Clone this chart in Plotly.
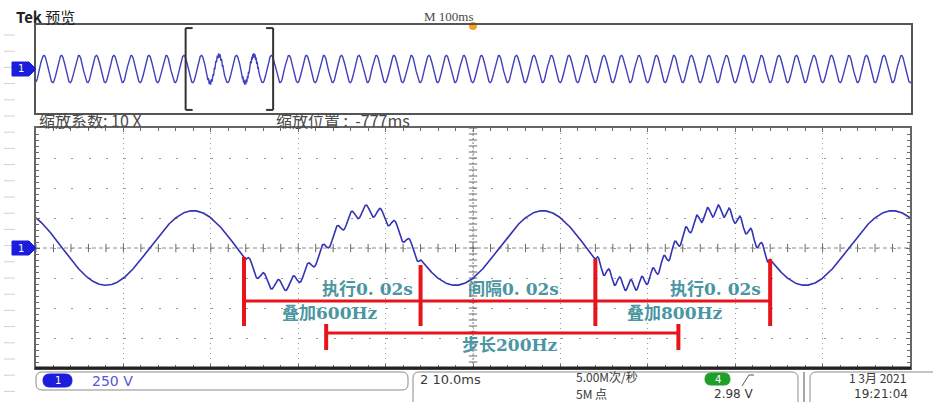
import numpy as np
import plotly.graph_objects as go

W, H = 933, 402

# ---------------- data ----------------
window_ms = [0, 100]            # main view: 10 div x 10 ms
volts_range = [-1000, 1000]     # 8 div x 250 V
overview_ms = [0, 1000]         # overview: 10 div x 100 ms
zoom_window_ms = [171, 271]     # bracket in overview
fundamental_hz = 50
amplitude_v = 311
zero_cross_ms = 13.0            # rising zero crossing of fundamental in main view
harm_start_ms = [24.0, 64.0]
harm_end_ms = [44.0, 84.0]
harm_hz = [600, 800]
harm_amp_v = [48, 48]

# red annotation brackets (ms, V)
marker_ms = [23.8, 44.0, 64.0, 84.0]
marker_top_v = [-75, -142, -92, -92]
marker_bottom_v = [-650, -650, -650, -650]
span_line_v = -442
step_ms = [33.2, 73.5]
step_line_v = -708
step_cap_v = [-633, -850]

label_text = ["执行0. 02s", "叠加600Hz", "间隔0. 02s", "执行0. 02s", "叠加800Hz", "步长200Hz"]
label_ms = [37.9, 33.6, 54.6, 77.8, 73.1, 54.2]
label_v = [-342, -542, -342, -342, -542, -808]


def signal(t_ms):
    v = amplitude_v * np.sin(2 * np.pi * fundamental_hz * (t_ms - zero_cross_ms) / 1000.0)
    for s, e, f, a in zip(harm_start_ms, harm_end_ms, harm_hz, harm_amp_v):
        m = (t_ms >= s) & (t_ms < e)
        v[m] += a * np.sin(2 * np.pi * f * (t_ms[m] - s) / 1000.0)
    return v


def px(x):
    return x / W


def py(y):
    return 1 - y / H


t_main = np.linspace(window_ms[0], window_ms[1], 6001)
v_main = signal(t_main)
t_ov = np.linspace(overview_ms[0], overview_ms[1], 40001)
v_ov = signal(t_ov - zoom_window_ms[0])

fig = go.Figure()

TICKC = "#6a6a6a"
# center-line minor ticks (main)
fig.add_trace(go.Scatter(x=np.arange(0, 100.01, 2), y=np.zeros(51), mode="markers",
                         marker=dict(symbol="line-ns-open", size=6, color=TICKC, line=dict(width=1, color=TICKC)),
                         hoverinfo="skip", showlegend=False, xaxis="x", yaxis="y"))
fig.add_trace(go.Scatter(x=np.full(41, 50.0), y=np.arange(-1000, 1000.1, 50), mode="markers",
                         marker=dict(symbol="line-ew-open", size=6, color=TICKC, line=dict(width=1, color=TICKC)),
                         hoverinfo="skip", showlegend=False, xaxis="x", yaxis="y"))

fig.add_trace(go.Scatter(x=t_main, y=v_main, mode="lines", line=dict(color="#3232b4", width=1.6),
                         hoverinfo="skip", showlegend=False, xaxis="x", yaxis="y"))
fig.add_trace(go.Scatter(x=t_ov, y=v_ov, mode="lines", line=dict(color="#4040bc", width=1.4),
                         hoverinfo="skip", showlegend=False, xaxis="x2", yaxis="y2"))

shapes = []
ann = []


def text(t, x, y, size, color, family="Noto Sans CJK SC", xanchor="center"):
    ann.append(dict(text=t, x=px(x), y=py(y), xref="paper", yref="paper", xanchor=xanchor, yanchor="middle",
                    showarrow=False, font=dict(family=family, size=size, color=color)))


# center crosshair
shapes.append(dict(type="line", xref="x", yref="y", x0=0, x1=100, y0=0, y1=0,
                    line=dict(color="#8a8a8a", width=1, dash="4px,3px"), layer="below"))
shapes.append(dict(type="line", xref="x", yref="y", x0=50, x1=50, y0=-1000, y1=1000,
                    line=dict(color="#8a8a8a", width=1, dash="2px,2px"), layer="below"))
# thicker bottom border of main
shapes.append(dict(type="line", xref="paper", yref="paper", x0=px(35), x1=px(911), y0=py(368), y1=py(368),
                    line=dict(color="#222", width=3)))

# red brackets
RED = "#e8141c"
for x, t, b in zip(marker_ms, marker_top_v, marker_bottom_v):
    shapes.append(dict(type="line", xref="x", yref="y", x0=x, x1=x, y0=t, y1=b,
                        line=dict(color=RED, width=4)))
shapes.append(dict(type="line", xref="x", yref="y", x0=marker_ms[0], x1=marker_ms[-1],
                    y0=span_line_v, y1=span_line_v, line=dict(color=RED, width=3)))
shapes.append(dict(type="line", xref="x", yref="y", x0=step_ms[0], x1=step_ms[1],
                    y0=step_line_v, y1=step_line_v, line=dict(color=RED, width=3)))
for x in step_ms:
    shapes.append(dict(type="line", xref="x", yref="y", x0=x, x1=x, y0=step_cap_v[0], y1=step_cap_v[1],
                        line=dict(color=RED, width=4)))

TEAL = "#4a96a2"
for txt, x, y in zip(label_text, label_ms, label_v):
    ann.append(dict(text="<b>" + txt + "</b>", x=x, y=y, xref="x", yref="y", showarrow=False,
                    xanchor="center", yanchor="middle",
                    font=dict(family="DejaVu Serif, Noto Sans CJK SC", size=17, color=TEAL)))

# overview zoom bracket
for x, d in ((zoom_window_ms[0], 8), (zoom_window_ms[1], -8)):
    shapes.append(dict(type="line", xref="x2", yref="y2", x0=x, x1=x, y0=-930, y1=930,
                        line=dict(color="#333", width=2)))
    for yy in (-930, 930):
        shapes.append(dict(type="line", xref="x2", yref="y2", x0=x, x1=x + d, y0=yy, y1=yy,
                            line=dict(color="#333", width=2)))

# trigger marker
shapes.append(dict(type="circle", xref="paper", yref="paper", x0=px(469), x1=px(477), y0=py(30), y1=py(22),
                    fillcolor="#f2a31f", line=dict(width=0), layer="below"))

# left margin faint dashes
for k in range(23):
    yy = 35 + 16.2 * k
    shapes.append(dict(type="line", xref="paper", yref="paper", x0=px(4), x1=px(15), y0=py(yy), y1=py(yy),
                        line=dict(color="#d0d0d0", width=1)))

# channel markers
BLUE = "#1c1cdc"
for yc in (69, 248):
    path = (f"M {px(12)},{py(yc-7)} L {px(29)},{py(yc-7)} L {px(36)},{py(yc)} L {px(29)},{py(yc+7)} "
            f"L {px(12)},{py(yc+7)} Z")
    shapes.append(dict(type="path", xref="paper", yref="paper", path=path, fillcolor=BLUE,
                        line=dict(color=BLUE, width=1)))
    text("1", 21, yc, 10, "white", family="DejaVu Sans")

# header texts
GRAY = "#4a4a4a"
text("<b>Tek</b> 预览", 14, 17, 15, "#222", xanchor="left")
text("M 100ms", 448, 16, 13, GRAY, family="Liberation Serif")
text("缩放系数: 10 X", 37, 120, 16, GRAY, xanchor="left")
text("缩放位置 :  -777ms", 274, 120, 16, GRAY, xanchor="left")


def rrect(x0, y0, x1, y1, r):
    return (f"M {px(x0+r)},{py(y0)} L {px(x1-r)},{py(y0)} Q {px(x1)},{py(y0)} {px(x1)},{py(y0+r)} "
            f"L {px(x1)},{py(y1-r)} Q {px(x1)},{py(y1)} {px(x1-r)},{py(y1)} L {px(x0+r)},{py(y1)} "
            f"Q {px(x0)},{py(y1)} {px(x0)},{py(y1-r)} L {px(x0)},{py(y0+r)} Q {px(x0)},{py(y0)} {px(x0+r)},{py(y0)} Z")


BOX = "#8a8a8a"
shapes.append(dict(type="path", xref="paper", yref="paper", path=rrect(36, 372, 408, 390, 6),
                    line=dict(color=BOX, width=1)))
shapes.append(dict(type="path", xref="paper", yref="paper", path=rrect(413, 372, 798, 410, 6),
                    line=dict(color=BOX, width=1)))
shapes.append(dict(type="path", xref="paper", yref="paper", path=rrect(810, 372, 950, 410, 6),
                    line=dict(color=BOX, width=1)))
shapes.append(dict(type="line", xref="paper", yref="paper", x0=px(804), x1=px(804), y0=py(372), y1=py(402),
                    line=dict(color=BOX, width=1.5)))
# channel 1 oval
shapes.append(dict(type="path", xref="paper", yref="paper", path=rrect(43, 374, 72, 387, 6.5),
                    fillcolor=BLUE, line=dict(color=BLUE, width=1)))
text("1", 57.5, 380.5, 10, "white", family="DejaVu Sans")
text("250 V", 90, 381, 14, "#5656d8", family="DejaVu Sans", xanchor="left")
# channel 4 oval
GREEN = "#1f9e2a"
shapes.append(dict(type="path", xref="paper", yref="paper", path=rrect(705, 373, 730, 385, 6),
                    fillcolor=GREEN, line=dict(color=GREEN, width=1)))
text("4", 717.5, 379, 10, "white", family="DejaVu Sans")
shapes.append(dict(type="path", xref="paper", yref="paper",
                    path=f"M {px(742)},{py(386)} L {px(749)},{py(375)} L {px(754)},{py(375)}",
                    line=dict(color="#555", width=1)))

STAT = "#3a3a3a"
text("2 10.0ms", 418, 379, 13, STAT, family="DejaVu Sans", xanchor="left")
text("5.00M次/秒", 574, 376, 12, STAT, xanchor="left")
text("5M 点", 574, 393.5, 12, STAT, xanchor="left")
text("2.98 V", 712, 394, 12, STAT, family="DejaVu Sans", xanchor="left")
text("1 3月 2021", 847, 377, 12, STAT, xanchor="left")
text("19:21:04", 852, 394, 12, STAT, family="DejaVu Sans", xanchor="left")

fig.update_layout(
    width=W, height=H, autosize=False,
    margin=dict(l=0, r=0, t=0, b=0),
    paper_bgcolor="white", plot_bgcolor="white",
    showlegend=False,
    xaxis=dict(domain=[px(36), px(910)], range=window_ms, dtick=10, tick0=0,
               showgrid=True, gridcolor="#9a9a9a", griddash="1px,4px", gridwidth=1,
               zeroline=False, showticklabels=False, ticks="inside", ticklen=4, tickcolor=TICKC,
               showline=True, linecolor="#666", linewidth=2, mirror="ticks",
               minor=dict(dtick=2, ticks="inside", ticklen=3, tickcolor=TICKC, showgrid=False),
               fixedrange=True),
    yaxis=dict(domain=[py(368), py(128)], range=volts_range, dtick=250, tick0=0,
               showgrid=True, gridcolor="#9a9a9a", griddash="2px,15.5px", gridwidth=1,
               zeroline=False, showticklabels=False, ticks="inside", ticklen=4, tickcolor=TICKC,
               showline=True, linecolor="#666", linewidth=2, mirror="ticks",
               minor=dict(dtick=50, ticks="inside", ticklen=3, tickcolor=TICKC, showgrid=False),
               fixedrange=True),
    xaxis2=dict(domain=[px(36), px(911)], range=overview_ms, anchor="y2", showgrid=False, zeroline=False,
                showticklabels=False, ticks="", showline=True, linecolor="#555", linewidth=1.5, mirror=True,
                fixedrange=True),
    yaxis2=dict(domain=[py(113), py(25)], range=volts_range, anchor="x2", showgrid=False, zeroline=False,
                showticklabels=False, ticks="", showline=True, linecolor="#555", linewidth=1.5, mirror=True,
                fixedrange=True),
    shapes=shapes, annotations=ann,
)

fig.write_html("out.html", config={"displayModeBar": False})
